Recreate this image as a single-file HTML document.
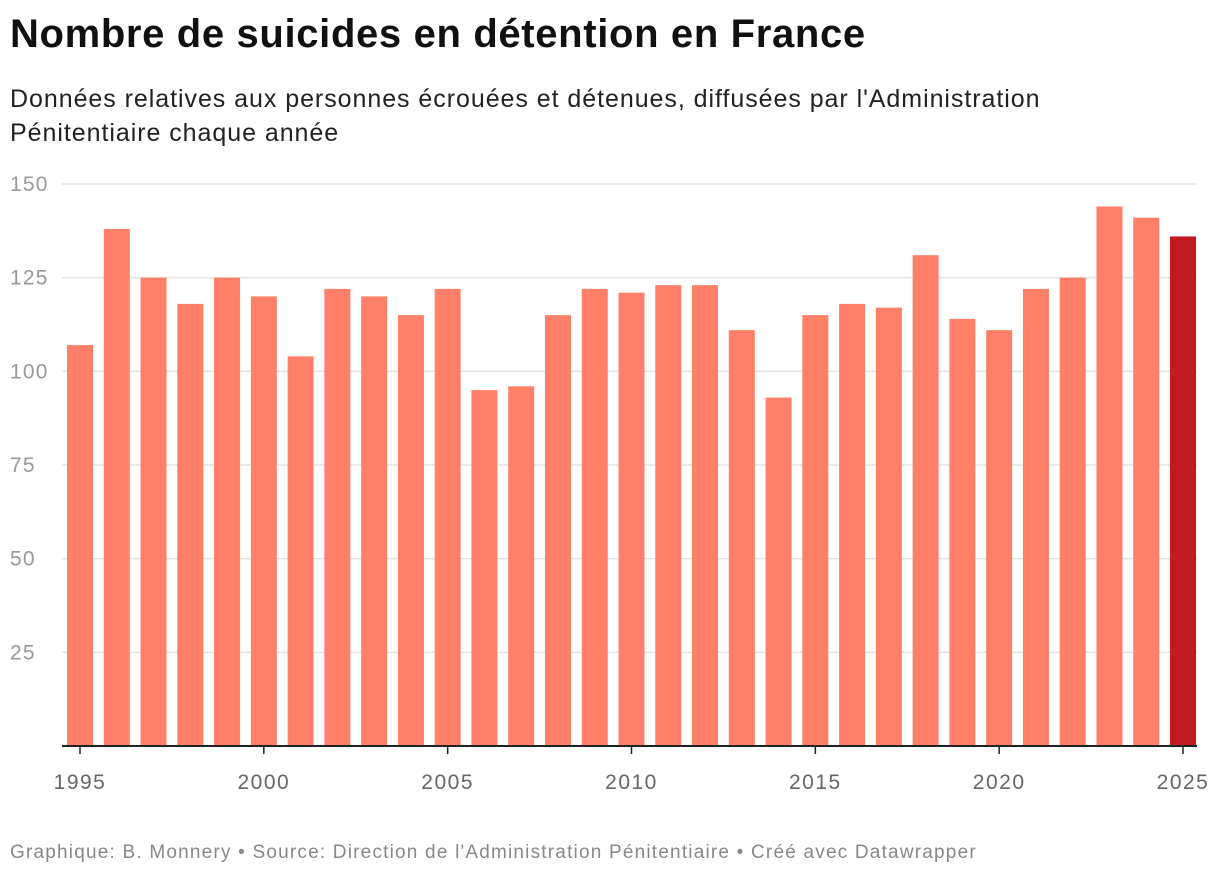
<!DOCTYPE html>
<html><head><meta charset="utf-8"><style>
body{margin:0;width:1220px;height:880px;background:#fff;font-family:"Liberation Sans",sans-serif;overflow:hidden;position:relative}
h1{position:absolute;left:10px;top:12px;margin:0;font-size:40px;font-weight:bold;color:#111;letter-spacing:0.65px}
.sub{position:absolute;left:10px;top:82px;font-size:25px;color:#222;line-height:34px;width:1080px;letter-spacing:0.95px}
.foot{position:absolute;left:10px;top:842px;font-size:19px;color:#888;letter-spacing:1.2px}
svg{position:absolute;left:0;top:0}
</style></head><body>
<h1>Nombre de suicides en détention en France</h1>
<div class="sub">Données relatives aux personnes écrouées et détenues, diffusées par l'Administration Pénitentiaire chaque année</div>
<svg id="chart" width="1220" height="880"></svg>
<div class="foot">Graphique: B. Monnery • Source: Direction de l'Administration Pénitentiaire • Créé avec Datawrapper</div>
<script>
const years=[1995,1996,1997,1998,1999,2000,2001,2002,2003,2004,2005,2006,2007,2008,2009,2010,2011,2012,2013,2014,2015,2016,2017,2018,2019,2020,2021,2022,2023,2024,2025];
const values=[107,138,125,118,125,120,104,122,120,115,122,95,96,115,122,121,123,123,111,93,115,118,117,131,114,111,122,125,144,141,136];
const yTicks=[25,50,75,100,125,150];
const xTicks=[1995,2000,2005,2010,2015,2020,2025];
const NS="http://www.w3.org/2000/svg";
const svg=document.getElementById('chart');
const y=v=>746-v*(562/150);
const x=yr=>80+(yr-1995)*(1103/30);
function mk(t,a){const e=document.createElementNS(NS,t);for(const k in a)e.setAttribute(k,a[k]);svg.appendChild(e);return e;}
yTicks.forEach(t=>{
 const l=mk('line',{x1:62,x2:1197,y1:y(t),y2:y(t),stroke:'#e2e2e2','stroke-width':1.5});
 
 
 const tx=mk('text',{x:10,y:y(t)+7,'font-size':21,fill:'#999','letter-spacing':'1.2'});
 tx.textContent=t;
 
 
});
years.forEach((yr,i)=>{
 const r=mk('rect',{x:x(yr)-13,y:y(values[i]),width:26,height:746-y(values[i]),fill:yr===2025?'#c11b1f':'#ff7f68'});
 
 
});
const base=mk('line',{x1:62,x2:1197,y1:746,y2:746,stroke:'#222','stroke-width':2});


xTicks.forEach(t=>{
 const l=mk('line',{x1:x(t),x2:x(t),y1:746,y2:754,stroke:'#222','stroke-width':1.5});
 
 
 const tx=mk('text',{x:x(t),y:789,'font-size':21,fill:'#666','text-anchor':'middle','letter-spacing':'1.5'});
 tx.textContent=t;
 
 
});
</script>
</body></html>
